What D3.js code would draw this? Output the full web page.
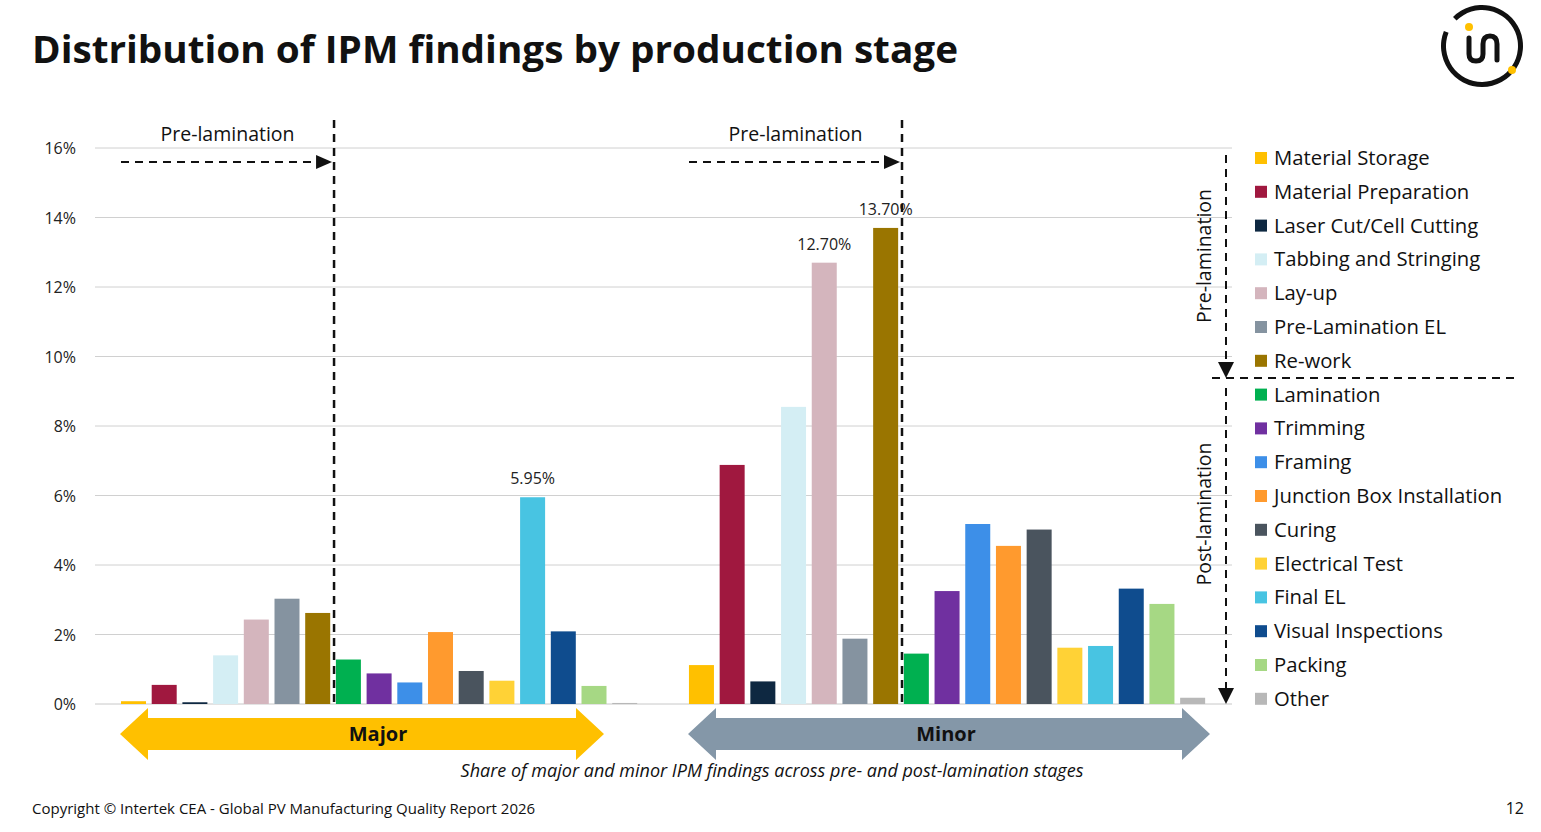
<!DOCTYPE html><html><head><meta charset="utf-8"><script src="https://cdn.jsdelivr.net/npm/d3@7"></script>
<style>body{margin:0;background:#fff}svg{font-family:"Open Sans",sans-serif}</style></head><body><svg id="c" width="1541" height="832"></svg><script>
const stages=["Material Storage","Material Preparation","Laser Cut/Cell Cutting","Tabbing and Stringing","Lay-up","Pre-Lamination EL","Re-work","Lamination","Trimming","Framing","Junction Box Installation","Curing","Electrical Test","Final EL","Visual Inspections","Packing","Other"];
const colors=["#FFC000","#A0183F","#0E2841","#D4EEF4","#D4B5BD","#8593A0","#9A7500","#00B050","#7030A0","#3D8FE8","#FF9A2E","#4A545E","#FFD236","#48C4E2","#0F4C8E","#A6D884","#B8B8B8"];
const major=[0.08,0.55,0.05,1.40,2.43,3.03,2.62,1.28,0.88,0.62,2.07,0.95,0.67,5.95,2.09,0.52,0.03];
const minor=[1.12,6.88,0.65,8.55,12.70,1.88,13.70,1.45,3.25,5.18,4.55,5.02,1.62,1.67,3.32,2.88,0.18];
const yTicks=[0,2,4,6,8,10,12,14,16];
const labelled={major:[13],minor:[4,6]};
const svg=d3.select("#c");
const y=d3.scaleLinear().domain([0,16]).range([704,148]);
const x=d3.scaleLinear().domain([0,1]).range([133.5,164.2]);
svg.append("text").attr("x",32).attr("y",63).attr("font-size",38).attr("font-weight","bold").attr("fill","#111").attr("textLength",926).attr("lengthAdjust","spacingAndGlyphs").text("Distribution of IPM findings by production stage");
const lg=svg.append("g").attr("transform","translate(1482,46)");
lg.append("path").attr("d",d3.arc()({innerRadius:36,outerRadius:41,startAngle:-0.25*Math.PI,endAngle:1.62*Math.PI})).attr("fill","#111");
lg.append("circle").attr("cx",-13).attr("cy",-19).attr("r",4).attr("fill","#FFC000");
lg.append("circle").attr("cx",30).attr("cy",24).attr("r",4).attr("fill","#FFC000");
lg.append("path").attr("d","M-13,-8 L-13,8 Q-13,15 -6,15 Q1,15 1,8 L1,-2 Q1,-10 8,-10 Q15,-10 15,-2 L15,14").attr("fill","none").attr("stroke","#111").attr("stroke-width",5).attr("stroke-linecap","round");
svg.selectAll(".g").data(yTicks).join("line").attr("x1",95).attr("x2",1232).attr("y1",d=>y(d)).attr("y2",d=>y(d)).attr("stroke",d=>d?"#d0d0d0":"#c8c8c8").attr("stroke-width",1);
svg.selectAll(".yt").data(yTicks).join("text").attr("x",76).attr("y",d=>y(d)+6).attr("text-anchor","end").attr("font-size",16).attr("fill","#222").text(d=>d+"%");
function group(vals,off,key){
 const g=svg.append("g");
 g.selectAll("rect").data(vals).join("rect").attr("x",(d,i)=>x(i+off)-12.5).attr("width",25).attr("y",d=>y(d)).attr("height",d=>y(0)-y(d)).attr("fill",(d,i)=>colors[i]);
 g.selectAll("text").data(labelled[key]).join("text").attr("x",i=>x(i+off)).attr("y",i=>y(vals[i])-13).attr("text-anchor","middle").attr("font-size",16).attr("fill","#222").text(i=>vals[i].toFixed(2)+"%");
}
group(major,0,"major");group(minor,18.5,"minor");
function ln(x1,y1,x2,y2,w){return svg.append("line").attr("x1",x1).attr("y1",y1).attr("x2",x2).attr("y2",y2).attr("stroke","#111").attr("stroke-width",w||2.5).attr("stroke-dasharray","8,6");}
[[x(6.5)+1,"Pre-lamination",121],[x(25)+1,"Pre-lamination",689]].forEach(([dx,t,sx])=>{
 ln(dx,120,dx,704);
 ln(sx,162,dx-14,162,2);
 svg.append("path").attr("d",`M${dx-2},162 l-16,-7 l0,14z`).attr("fill","#111");
 svg.append("text").attr("x",(sx+dx)/2).attr("y",141).attr("text-anchor","middle").attr("font-size",19.5).attr("fill","#111").text(t);
});
ln(1226,155,1226,368,2);ln(1226,388,1226,692,2);ln(1212,378,1520,378,2);
svg.append("path").attr("d","M1226,378 l-8,-16 l16,0z").attr("fill","#111");
svg.append("path").attr("d","M1226,704 l-8,-16 l16,0z").attr("fill","#111");
svg.append("text").attr("transform","translate(1211,256) rotate(-90)").attr("text-anchor","middle").attr("font-size",19.5).attr("fill","#111").text("Pre-lamination");
svg.append("text").attr("transform","translate(1211,514) rotate(-90)").attr("text-anchor","middle").attr("font-size",19.5).attr("fill","#111").text("Post-lamination");
const leg=svg.append("g").selectAll("g").data(stages).join("g").attr("transform",(d,i)=>`translate(1255,${158+i*33.8})`);
leg.append("rect").attr("x",0).attr("y",-6).attr("width",12).attr("height",12).attr("fill",(d,i)=>colors[i]);
leg.append("text").attr("x",19).attr("y",7).attr("font-size",20.3).attr("fill","#111").text(d=>d);
function arrow(x1,x2,col,t,tx){
 svg.append("path").attr("d",`M${x1},734 L${x1+28},708 L${x1+28},718 L${x2-28},718 L${x2-28},708 L${x2},734 L${x2-28},760 L${x2-28},750 L${x1+28},750 L${x1+28},760 Z`).attr("fill",col);
 svg.append("text").attr("x",tx).attr("y",741).attr("text-anchor","middle").attr("font-size",20).attr("font-weight","bold").attr("fill","#111").text(t);
}
arrow(120,604,"#FFC000","Major",378);arrow(688,1210,"#8497A8","Minor",946);
svg.append("text").attr("x",772).attr("y",777).attr("text-anchor","middle").attr("font-size",18).attr("font-style","italic").attr("fill","#111").text("Share of major and minor IPM findings across pre- and post-lamination stages");
svg.append("text").attr("x",32).attr("y",814).attr("font-size",15).attr("fill","#111").text("Copyright © Intertek CEA -  Global PV Manufacturing Quality Report 2026");
svg.append("text").attr("x",1524).attr("y",814).attr("text-anchor","end").attr("font-size",16).attr("fill","#111").text("12");
</script></body></html>
